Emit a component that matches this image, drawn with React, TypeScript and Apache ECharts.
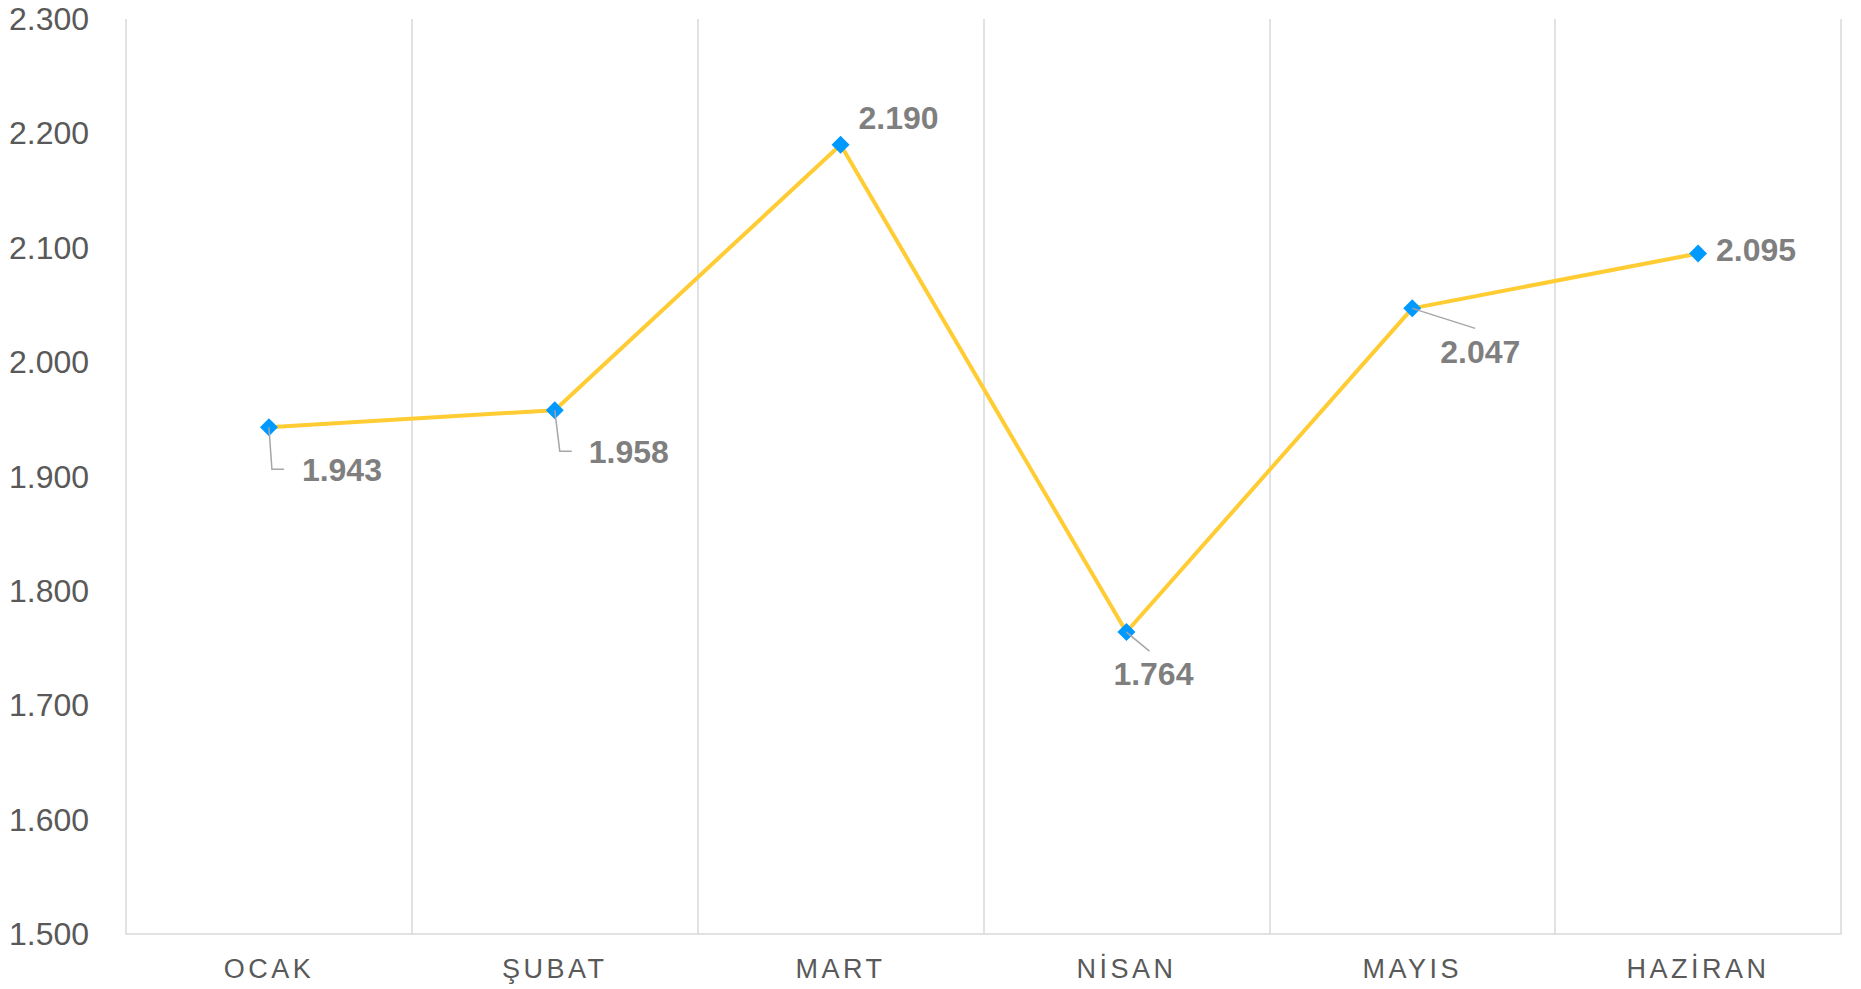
import React, { useEffect, useRef } from 'react';
import * as echarts from 'echarts';

const categories = ['OCAK', 'ŞUBAT', 'MART', 'NİSAN', 'MAYIS', 'HAZİRAN'];
const values = [1943, 1958, 2190, 1764, 2047, 2095];
const yMin = 1500;
const yMax = 2300;
const yStep = 100;
const labelOffsets = [[73, 43], [74, 42], [58, -27], [27, 42], [68, 44], [58, -3]];
// leader line bends, relative to the data point (empty = no leader)
const leaderBends: number[][][] = [
  [[3, 42], [15, 42]],
  [[5, 41], [17, 41]],
  [],
  [[23, 19]],
  [[63, 20]],
  [],
];

const FONT = '"Liberation Sans", Arial, Helvetica, sans-serif';

function fmt(v: number): string {
  return String(Math.round(v)).replace(/\B(?=(\d{3})+(?!\d))/g, '.');
}

export default function App() {
  const ref = useRef<HTMLDivElement>(null);
  useEffect(() => {
    if (!ref.current) return;
    const chart = echarts.init(ref.current, null, { renderer: 'svg' });
    chart.setOption({
      animation: false,
      backgroundColor: '#ffffff',
      textStyle: { fontFamily: FONT },
      grid: { left: 126, right: 20, top: 19, bottom: 55, containLabel: false },
      xAxis: {
        type: 'category',
        data: categories,
        boundaryGap: true,
        axisLine: { show: true, lineStyle: { color: '#d9d9d9', width: 1.5 } },
        axisTick: { show: false },
        splitLine: { show: true, lineStyle: { color: '#d9d9d9', width: 1.5 } },
        axisLabel: { color: '#595959', fontSize: 27, margin: 21, fontFamily: FONT },
      },
      yAxis: {
        type: 'value',
        min: yMin,
        max: yMax,
        interval: yStep,
        axisLine: { show: false },
        axisTick: { show: false },
        splitLine: { show: false },
        axisLabel: {
          color: '#595959',
          fontSize: 32,
          align: 'left',
          margin: 117,
          fontFamily: FONT,
          formatter: (v: number) => fmt(v),
        },
      },
      series: [
        {
          type: 'line',
          z: 2,
          data: values.map((v, i) => ({
            value: v,
            label: { offset: labelOffsets[i] },
          })),
          symbol: 'diamond',
          symbolSize: 18,
          itemStyle: { color: '#0099FF' },
          lineStyle: { color: '#FFCC33', width: 4 },
          label: {
            show: true,
            position: 'inside',
            color: '#7f7f7f',
            fontSize: 32,
            fontWeight: 'bold',
            fontFamily: FONT,
            formatter: (p: any) => fmt(p.value),
          },
        },
        {
          type: 'custom',
          z: 3,
          silent: true,
          data: values.map((v, i) => [i, v]),
          renderItem: (params: any, api: any) => {
            const i = params.dataIndex;
            const bends = leaderBends[i];
            if (!bends || bends.length === 0) return null;
            const p = api.coord([api.value(0), api.value(1)]);
            const pts = [p, ...bends.map((b) => [p[0] + b[0], p[1] + b[1]])];
            return {
              type: 'polyline',
              shape: { points: pts },
              style: { stroke: '#a6a6a6', lineWidth: 1.5, fill: 'none' },
            };
          },
        },
      ],
    });
    return () => chart.dispose();
  }, []);
  return (
    <>
      <style>{'svg text[style*="27px"]{letter-spacing:3.5px;}'}</style>
      <div
        ref={ref}
        style={{ position: 'fixed', left: 0, top: 0, width: 1861, height: 989, background: '#fff' }}
      />
    </>
  );
}
